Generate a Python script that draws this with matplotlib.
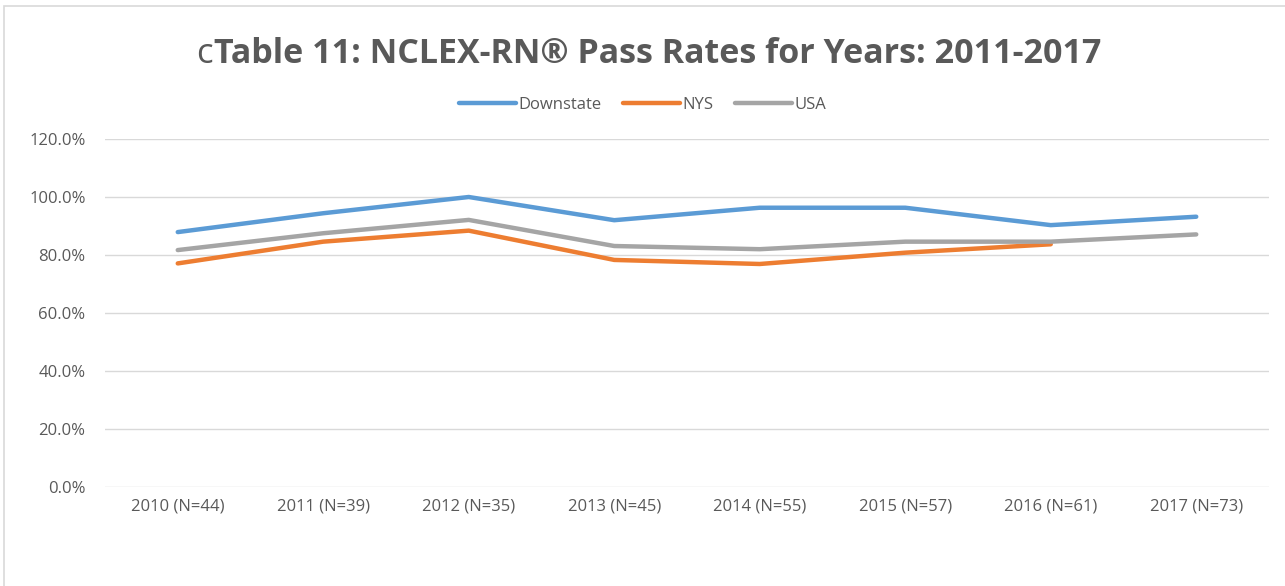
import matplotlib
matplotlib.use("Agg")
import matplotlib.pyplot as plt
from matplotlib.patches import Rectangle

categories = ["2010 (N=44)", "2011 (N=39)", "2012 (N=35)", "2013 (N=45)",
              "2014 (N=55)", "2015 (N=57)", "2016 (N=61)", "2017 (N=73)"]
downstate = [87.9, 94.4, 100.0, 92.0, 96.3, 96.3, 90.3, 93.2]
nys = [77.1, 84.6, 88.4, 78.3, 76.9, 80.8, 83.7]
usa = [81.7, 87.5, 92.1, 83.1, 82.0, 84.6, 84.6, 87.1]
yticks = [0, 20, 40, 60, 80, 100, 120]

plt.rcParams['font.family'] = ['Open Sans', 'DejaVu Sans']
TXT = '#595959'

fig = plt.figure(figsize=(12.85, 5.86), dpi=100)
fig.patches.append(Rectangle((4/1285, -0.1), 1.2, 1 - 6/586 + 0.1,
                             transform=fig.transFigure, fill=False,
                             edgecolor='#D9D9D9', linewidth=1.2))

ax = fig.add_axes([105/1285, 1 - 487/586, (1269 - 105)/1285, (487 - 139)/586])
x = list(range(len(categories)))
ax.plot(x, downstate, color='#5B9BD5', lw=3.2, solid_capstyle='round', label='Downstate', zorder=3)
ax.plot(x[:len(nys)], nys, color='#ED7D31', lw=3.2, solid_capstyle='round', label='NYS', zorder=3)
ax.plot(x, usa, color='#A5A5A5', lw=3.2, solid_capstyle='round', label='USA', zorder=3)

ax.set_xlim(-0.5, len(categories) - 0.5)
ax.set_ylim(0, 120)
ax.set_yticks(yticks)
ax.set_yticklabels([f"{v:.1f}%" for v in yticks])
ax.set_xticks(x)
ax.set_xticklabels(categories)
ax.grid(axis='y', color='#D9D9D9', lw=1)
ax.set_axisbelow(True)
for s in ax.spines.values():
    s.set_visible(False)
ax.tick_params(length=0, labelsize=12, colors=TXT, pad=8)
ax.tick_params(axis='y', pad=14)

tb = 1 - 63/586
main = fig.text(0.5 + 15/1285, tb, "Table 11: NCLEX-RN® Pass Rates for Years: 2011-2017",
                ha='center', va='baseline', fontsize=24.5, fontweight='bold', color=TXT)
fig.canvas.draw()
bb = main.get_window_extent(fig.canvas.get_renderer())
fig.text((bb.x0 - 1) / 1285, tb, "c", ha='right', va='baseline',
         fontsize=25, color=TXT)

leg = fig.legend(loc='center', bbox_to_anchor=(0.5, 1 - 105/586), ncol=3, frameon=False,
                 fontsize=12, handlelength=3.4, columnspacing=1.3, handletextpad=0.15,
                 labelcolor=TXT)
fig.savefig("out.png", dpi=100)
